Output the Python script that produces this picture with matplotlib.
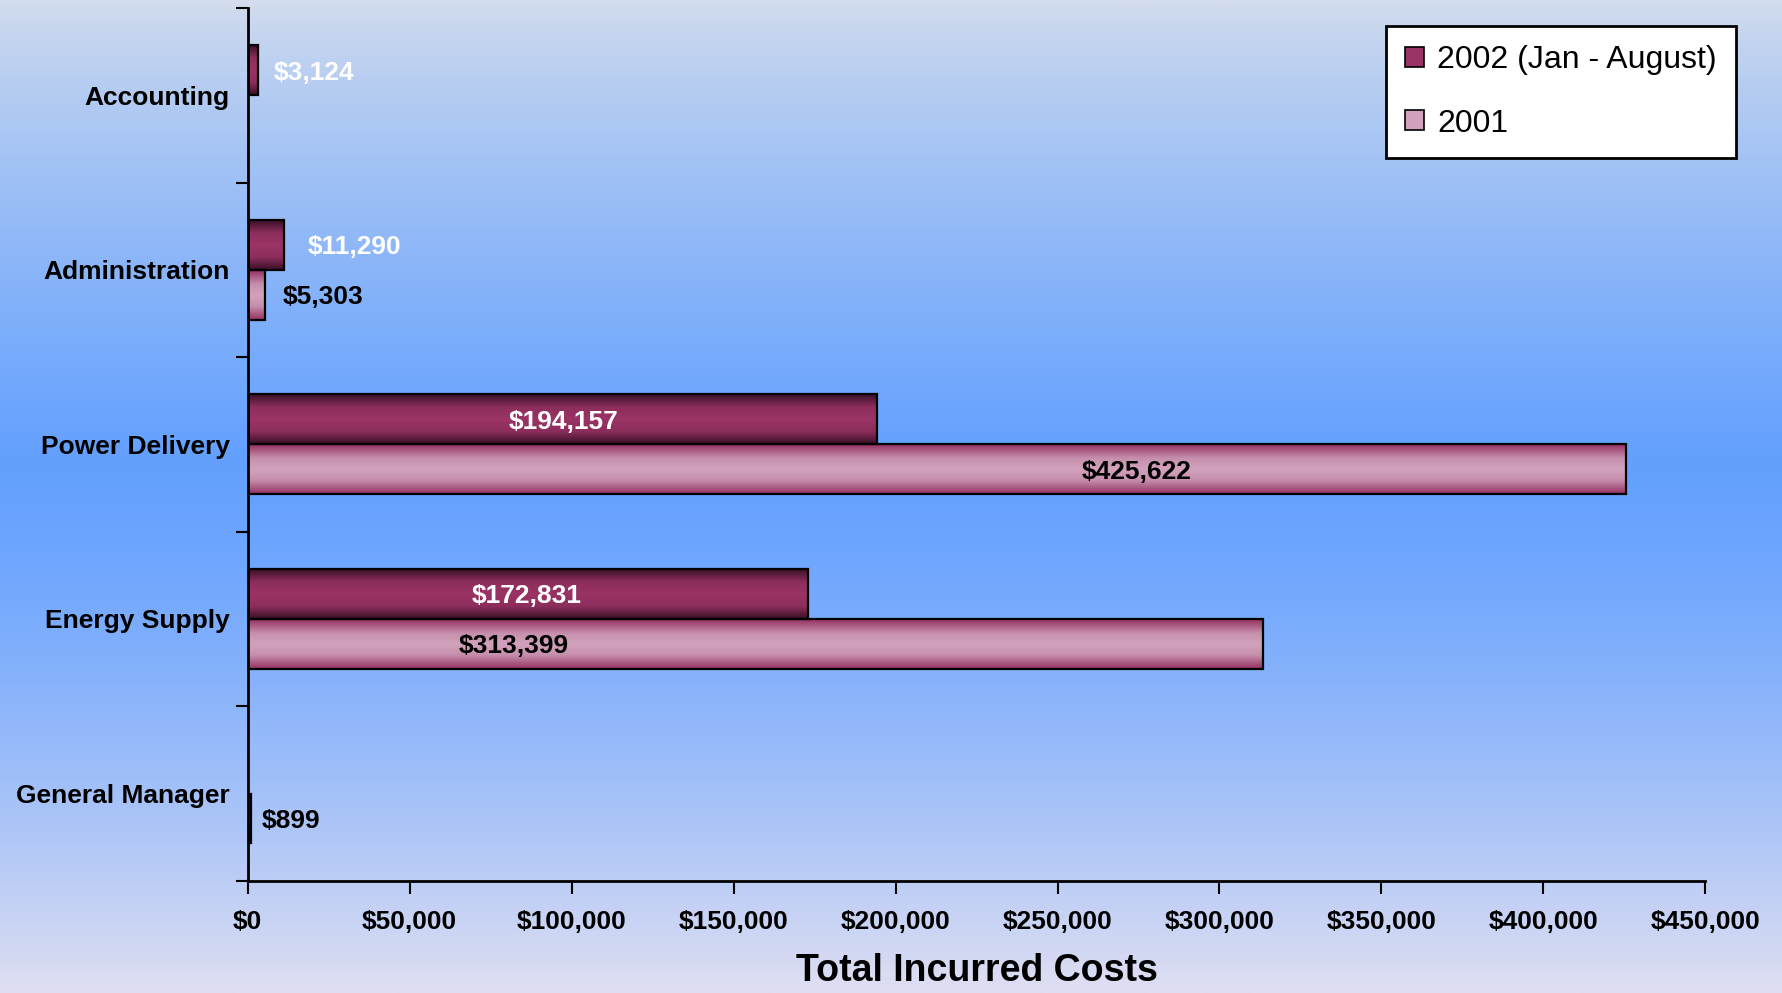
import numpy as np
import matplotlib.pyplot as plt
from matplotlib.colors import LinearSegmentedColormap
from matplotlib.patches import Patch
from matplotlib.ticker import FuncFormatter

plt.rcParams['font.family'] = ['Liberation Sans', 'DejaVu Sans']

categories = ["Accounting", "Administration", "Power Delivery", "Energy Supply", "General Manager"]
cost_2002 = [3124, 11290, 194157, 172831, None]
cost_2001 = [None, 5303, 425622, 313399, 899]
labels_2002 = ["$3,124", "$11,290", "$194,157", "$172,831", None]
labels_2001 = [None, "$5,303", "$425,622", "$313,399", "$899"]
series_names = ["2002 (Jan - August)", "2001"]
xticks = list(range(0, 450001, 50000))

# where the data labels sit (x centre, data units), as in the original chart
label_x_2002 = [20400, 33000, 97600, 86000, None]
label_x_2001 = [None, 23300, 274500, 82100, 13300]

cmap_2002 = LinearSegmentedColormap.from_list("c02", [(0, "#9a3466"), (0.5, "#8c2e5c"), (1, "#3a1126")])
cmap_2001 = LinearSegmentedColormap.from_list("c01", [(0, "#d2a2bc"), (0.45, "#c58fac"), (1, "#953161")])

fig = plt.figure(figsize=(17.82, 9.93), dpi=100)

# background gradient
bg = fig.add_axes([0, 0, 1, 1], zorder=-10)
top = np.array([212, 221, 237]) / 255
mid = np.array([99, 160, 255]) / 255
bot = np.array([223, 223, 242]) / 255
t = np.linspace(0, 1, 400)[:, None]
up = (t / 0.46) ** 0.8
down = ((t - 0.46) / 0.54) ** 1.4
cols = np.where(t < 0.46, top + (mid - top) * up, mid + (bot - mid) * down)
bg.imshow(cols[:, None, :], aspect='auto', extent=[0, 1, 0, 1], interpolation='bilinear')
bg.axis('off')

ax = fig.add_axes([0.139, 0.113, 0.818, 0.879])
ax.set_facecolor('none')

h = 0.286
y = np.arange(len(categories))


def gradient_bars(values, offset, cmap):
    idx = [i for i, v in enumerate(values) if v is not None]
    vals = [values[i] for i in idx]
    bars = ax.barh(y[idx] + offset, vals, height=h, facecolor='none',
                   edgecolor='black', linewidth=1.6, zorder=3)
    grad = np.abs(np.linspace(-1, 1, 64))[:, None]
    for b in bars:
        x0, y0, w, hh = b.get_x(), b.get_y(), b.get_width(), b.get_height()
        im = ax.imshow(grad, cmap=cmap, vmin=0, vmax=1, aspect='auto',
                       extent=[x0, x0 + w, y0, y0 + hh], interpolation='bicubic', zorder=2)
        im.set_clip_path(b)
    return bars


gradient_bars(cost_2002, -h / 2, cmap_2002)
gradient_bars(cost_2001, h / 2, cmap_2001)

for i in range(len(categories)):
    if labels_2002[i]:
        ax.text(label_x_2002[i], y[i] - h / 2, labels_2002[i], color='white', fontsize=19,
                fontweight='bold', ha='center', va='center_baseline', zorder=4)
    if labels_2001[i]:
        ax.text(label_x_2001[i], y[i] + h / 2, labels_2001[i], color='black', fontsize=19,
                fontweight='bold', ha='center', va='center_baseline', zorder=4)

ax.set_xlim(0, 450000)
ax.set_ylim(len(categories) - 0.5, -0.5)
ax.set_xticks(xticks)
ax.xaxis.set_major_formatter(FuncFormatter(lambda v, p: "${:,.0f}".format(v)))
ax.set_yticks(np.arange(-0.5, len(categories)), labels=[])
ax.set_yticks(y, labels=categories, minor=True)
ax.tick_params(axis='y', which='major', length=9, width=1.5, direction='out')
ax.tick_params(axis='y', which='minor', length=0, pad=13, labelsize=19)
ax.tick_params(axis='x', length=9, width=1.5, direction='out', pad=12, labelsize=19)
for lab in ax.get_xticklabels() + ax.get_yticklabels(minor=True):
    lab.set_fontweight('bold')

for s in ['top', 'right']:
    ax.spines[s].set_visible(False)
for s in ['left', 'bottom']:
    ax.spines[s].set_linewidth(2)

ax.set_xlabel("Total Incurred Costs", fontsize=27, fontweight='bold', labelpad=14)

handles = [Patch(facecolor="#9a3466", edgecolor='black', linewidth=1.2),
           Patch(facecolor="#d2a2bc", edgecolor='black', linewidth=1.2)]
leg = fig.legend(handles, series_names, loc='upper right', bbox_to_anchor=(0.974, 0.974),
                 fontsize=23, frameon=True, fancybox=False, edgecolor='black',
                 handlelength=0.6, handleheight=0.6, handletextpad=0.4,
                 borderpad=0.6, labelspacing=1.05, borderaxespad=0)
leg.get_frame().set_linewidth(2)
leg.get_frame().set_alpha(1)

fig.savefig("out.png", dpi=100)
